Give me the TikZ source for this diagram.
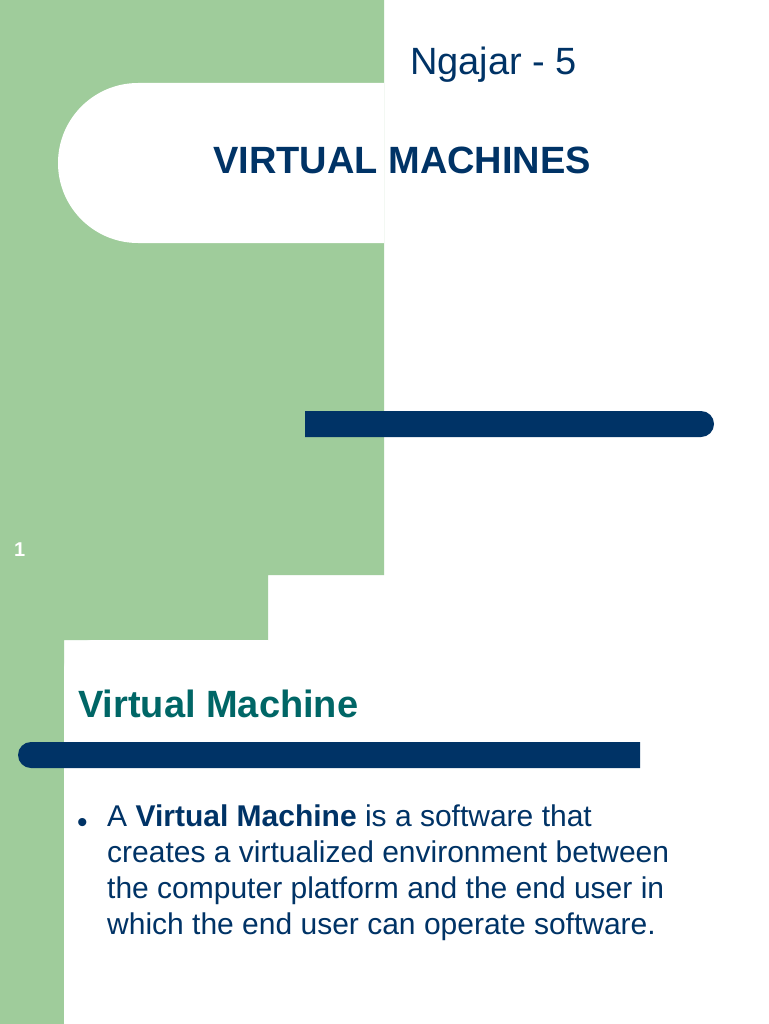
\documentclass[tikz,border=0pt]{standalone}
\usepackage{fontspec}
\setmainfont{Liberation Sans}
\definecolor{gr}{HTML}{9FCC9B}
\definecolor{navy}{HTML}{003366}
\definecolor{teal2}{HTML}{006666}
\begin{document}
\begin{tikzpicture}[x=1pt,y=-1pt,
  txt/.style={anchor=base west,inner sep=0pt,text=navy}]
\useasboundingbox (0,0) rectangle (768,1024);
\fill[white] (0,0) rectangle (768,1024);
\fill[gr] (0,0) -- (384,0) -- (384,575) -- (268,575) -- (268,640) -- (64,640) -- (64,1024) -- (0,1024) -- cycle;
% top white rounded panel
\fill[white] (384,83) -- (138,83) arc[start angle=270,end angle=90,radius=80] -- (384,243) -- cycle;
% bottom white rounded corner
\fill[white] (64,1024) -- (64,670) arc[start angle=180,end angle=270,radius=30] -- (268,640) -- (268,1024) -- cycle;
% bars
\fill[navy] (305,411) -- (701,411) arc[start angle=270,end angle=450,radius=13] -- (305,437) -- cycle;
\fill[navy] (640,742) -- (31,742) arc[start angle=270,end angle=90,radius=13] -- (640,768) -- cycle;
\node[txt,font=\fontsize{38}{44}\selectfont] (t1) at (410,75) {Ngajar - 5};
\node[txt,font=\fontsize{38}{44}\bfseries] (t2) at (213,174) {VIRTUAL MACHINES};
\node[txt,text=white,font=\fontsize{20}{24}\bfseries] (n1) at (14,556) {1};
\node[txt,text=teal2,font=\fontsize{38}{44}\bfseries] (t3) at (78,717) {Virtual Machine};
\node[txt,font=\fontsize{30}{30}\selectfont] (b) at (77,832) {•};
\node[txt,font=\fontsize{30}{36}\selectfont,align=left,anchor=north west] (body) at (107,805)
{A \textbf{Virtual Machine} is a software that\\creates a virtualized environment between\\the computer platform and the end user in\\which the end user can operate software.};
\end{tikzpicture}
\end{document}
